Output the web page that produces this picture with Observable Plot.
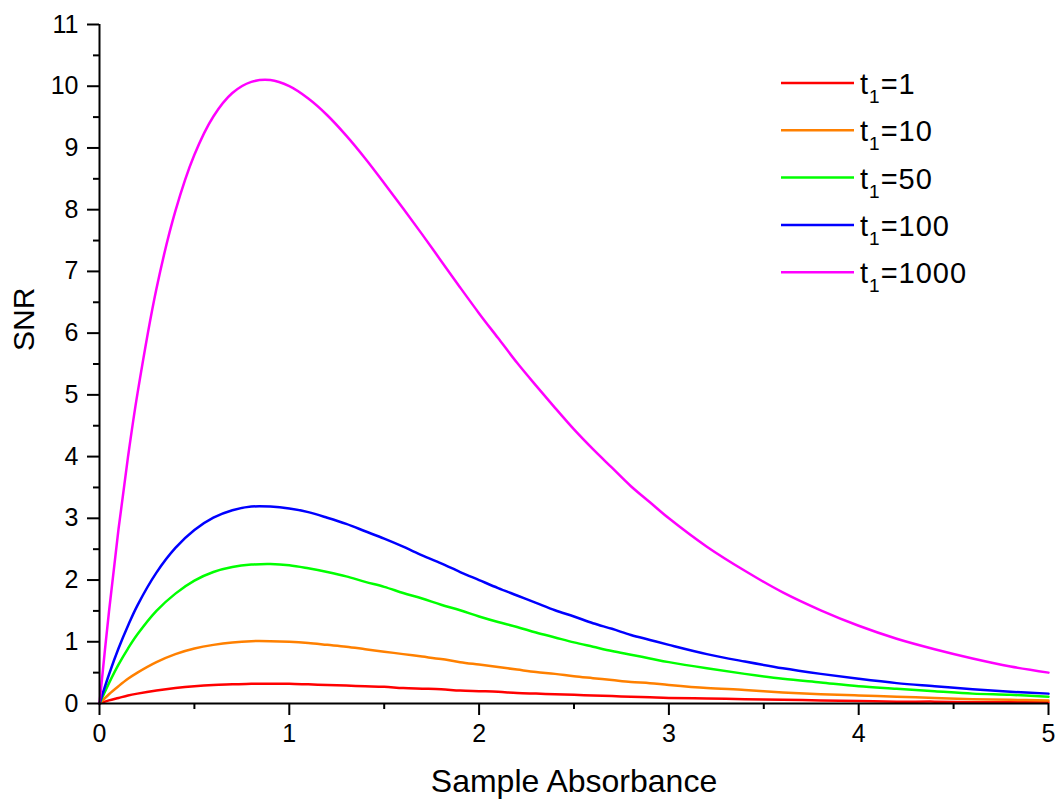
<!DOCTYPE html>
<html>
<head>
<meta charset="utf-8">
<script src="https://cdn.jsdelivr.net/npm/d3@7"></script>
<script src="https://cdn.jsdelivr.net/npm/@observablehq/plot@0.6"></script>
<style>
  html, body { margin: 0; padding: 0; background: #fff; }
  #chart { width: 1056px; height: 800px; }
</style>
</head>
<body>
<div id="chart"></div>
<script>
// Sample absorbance values (x)
const absorbance = [0, 0.05, 0.1, 0.15, 0.2, 0.3, 0.4, 0.5, 0.6, 0.7, 0.8, 0.9, 1.0, 1.1, 1.2, 1.3, 1.4, 1.5, 1.6, 1.7, 1.8, 1.9, 2.0, 2.1, 2.2, 2.3, 2.4, 2.5, 2.6, 2.7, 2.8, 2.9, 3.0, 3.2, 3.4, 3.6, 3.8, 4.0, 4.2, 4.4, 4.6, 4.8, 5.0];
// SNR values for each series
const snr_t1 = [0, 0.05, 0.09, 0.13, 0.16, 0.21, 0.25, 0.28, 0.30, 0.31, 0.32, 0.32, 0.32, 0.31, 0.30, 0.29, 0.28, 0.27, 0.25, 0.24, 0.23, 0.21, 0.20, 0.19, 0.17, 0.16, 0.15, 0.14, 0.13, 0.12, 0.11, 0.10, 0.09, 0.08, 0.07, 0.06, 0.05, 0.04, 0.03, 0.03, 0.02, 0.02, 0.02];
const snr_t10 = [0, 0.15, 0.28, 0.40, 0.50, 0.67, 0.80, 0.89, 0.95, 0.99, 1.01, 1.01, 1.00, 0.98, 0.95, 0.92, 0.88, 0.84, 0.80, 0.76, 0.72, 0.67, 0.63, 0.59, 0.55, 0.51, 0.48, 0.44, 0.41, 0.38, 0.35, 0.33, 0.30, 0.25, 0.22, 0.18, 0.15, 0.13, 0.11, 0.09, 0.07, 0.06, 0.05];
const snr_t50 = [0, 0.33, 0.63, 0.89, 1.12, 1.50, 1.78, 1.99, 2.13, 2.21, 2.25, 2.26, 2.24, 2.19, 2.13, 2.06, 1.97, 1.89, 1.79, 1.70, 1.60, 1.51, 1.41, 1.32, 1.24, 1.15, 1.07, 0.99, 0.92, 0.85, 0.79, 0.73, 0.67, 0.57, 0.48, 0.40, 0.34, 0.28, 0.24, 0.20, 0.16, 0.14, 0.11];
const snr_t100 = [0, 0.47, 0.89, 1.26, 1.59, 2.12, 2.52, 2.81, 3.01, 3.13, 3.19, 3.19, 3.16, 3.10, 3.01, 2.91, 2.79, 2.67, 2.54, 2.40, 2.27, 2.13, 2.00, 1.87, 1.75, 1.63, 1.51, 1.41, 1.30, 1.21, 1.11, 1.03, 0.95, 0.80, 0.68, 0.57, 0.48, 0.40, 0.33, 0.28, 0.23, 0.19, 0.16];
const snr_t1000 = [0, 1.49, 2.82, 3.99, 5.02, 6.72, 7.98, 8.89, 9.51, 9.89, 10.07, 10.10, 10.00, 9.80, 9.53, 9.20, 8.83, 8.43, 8.02, 7.60, 7.17, 6.74, 6.32, 5.92, 5.52, 5.15, 4.79, 4.44, 4.12, 3.82, 3.52, 3.26, 3.00, 2.54, 2.15, 1.80, 1.51, 1.26, 1.05, 0.88, 0.73, 0.60, 0.50];

const seriesNames = ["1", "10", "50", "100", "1000"];
const seriesColors = ["#ff0000", "#ff8000", "#00ff00", "#0000ff", "#ff00ff"];
const seriesValues = [snr_t1, snr_t10, snr_t50, snr_t100, snr_t1000];

const xTicks = [0, 1, 2, 3, 4, 5];
const xMinorTicks = [0.5, 1.5, 2.5, 3.5, 4.5];
const yTicks = [0, 1, 2, 3, 4, 5, 6, 7, 8, 9, 10, 11];
const yMinorTicks = [0.5, 1.5, 2.5, 3.5, 4.5, 5.5, 6.5, 7.5, 8.5, 9.5, 10.5];

const rows = [];
seriesNames.forEach((name, i) => {
  absorbance.forEach((a, j) => rows.push({series: name, a, snr: seriesValues[i][j]}));
});

const FONT = "'Liberation Sans', Arial, sans-serif";

const chart = Plot.plot({
  width: 1056,
  height: 800,
  marginLeft: 99,
  marginRight: 8,
  marginTop: 24,
  marginBottom: 97,
  style: {fontFamily: FONT, fontSize: "25px", background: "#fff", color: "#000"},
  x: {domain: [0, 5]},
  y: {domain: [0, 11]},
  color: {domain: seriesNames, range: seriesColors},
  marks: [
    Plot.line(rows, {x: "a", y: "snr", z: "series", stroke: "series", strokeWidth: 2.5, curve: "catmull-rom"}),
    Plot.ruleX([0], {stroke: "#000", strokeWidth: 2}),
    Plot.ruleY([0], {stroke: "#000", strokeWidth: 2}),
    Plot.axisX({ticks: xTicks, tickSize: 12, tickPadding: 9, strokeWidth: 2, label: null, tickFormat: d => String(d)}),
    Plot.axisX({ticks: xMinorTicks, tickSize: 6, strokeWidth: 2, text: null, label: null}),
    Plot.axisY({ticks: yTicks, tickSize: 12, tickPadding: 9, strokeWidth: 2, label: null, tickFormat: d => String(d)}),
    Plot.axisY({ticks: yMinorTicks, tickSize: 6, strokeWidth: 2, text: null, label: null}),
    Plot.text(["Sample Absorbance"], {frameAnchor: "bottom", dy: 88, fontSize: 32, fill: "#000", letterSpacing: "1.5px"}),
    Plot.text(["SNR"], {frameAnchor: "left", dx: -75, dy: -13, rotate: -90, fontSize: 30, fill: "#000"})
  ]
});

document.getElementById("chart").appendChild(chart);

const svg = d3.select(chart);
// Tick label size
svg.selectAll('g[aria-label$="tick label"]').attr("font-size", 25).style("font-size", "25px");

// Legend (top right, inside the plot area)
const leg = svg.append("g").attr("font-family", FONT).attr("font-size", 29).attr("text-anchor", "start");
seriesNames.forEach((name, i) => {
  const y = 83 + i * 47.3;
  leg.append("line").attr("x1", 781).attr("x2", 854).attr("y1", y).attr("y2", y)
    .attr("stroke", seriesColors[i]).attr("stroke-width", 2.5);
  const t = leg.append("text").attr("x", 860).attr("y", y + 11).attr("fill", "#000")
    .attr("text-anchor", "start").attr("letter-spacing", "1px");
  t.append("tspan").text("t");
  t.append("tspan").attr("font-size", 19).attr("dy", 9).text("1");
  t.append("tspan").attr("dy", -9).text("=" + name);
});
</script>
</body>
</html>
